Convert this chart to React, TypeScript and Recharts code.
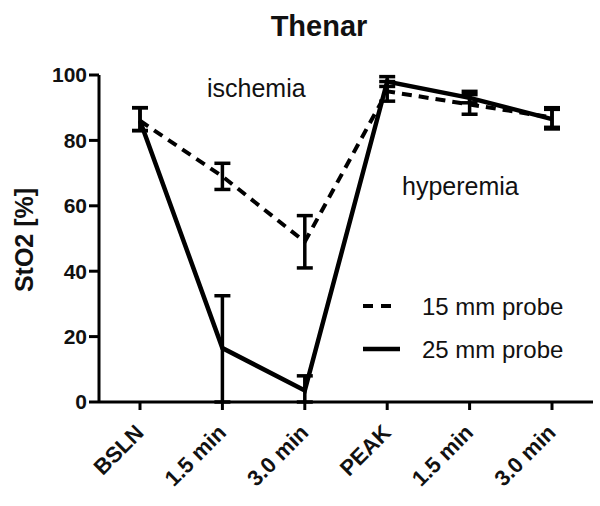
import { LineChart, Line, XAxis, YAxis, ErrorBar, Legend } from 'recharts'

// time points (x axis)
const categories = ['BSLN', '1.5 min', '3.0 min', 'PEAK', '1.5 min', '3.0 min']

// StO2 [%] means
const probe15 = [86, 69, 49, 95, 91, 87]
const probe25 = [86, 16.5, 3.5, 98, 93, 86.5]

// error bars as [down, up] deltas
const err15 = [[3, 4], [4, 4], [8, 8], [3, 3], [3, 3], [3, 3]]
const err25 = [[3, 4], [16.5, 16], [3.5, 4.5], [1.5, 1.5], [1.5, 2], [3, 3]]

const yTicks = [0, 20, 40, 60, 80, 100]

const seriesNames = ['15 mm probe', '25 mm probe']

const data = categories.map((name, i) => ({
  name,
  p15: probe15[i],
  p25: probe25[i],
  e15: err15[i],
  e25: err25[i],
}))

const FONT = 'Arial, "Liberation Sans", sans-serif'
const INK = '#111'

const XTick = ({ x, y, payload }: any) => (
  <text
    x={x + 5}
    y={y + 22}
    transform={`rotate(-45, ${x + 5}, ${y + 22})`}
    textAnchor="end"
    fontFamily={FONT}
    fontWeight="bold"
    fontSize={22}
    fill={INK}
  >
    {payload.value}
  </text>
)

const LegendBox = () => (
  <svg width={240} height={80}>
    <line x1={8} y1={18} x2={38} y2={18} stroke="#000" strokeWidth={4} strokeDasharray="10 8" />
    <text x={67} y={27} fontFamily={FONT} fontSize={24} fill={INK}>{seriesNames[0]}</text>
    <line x1={8} y1={61} x2={45} y2={61} stroke="#000" strokeWidth={4.5} />
    <text x={67} y={70} fontFamily={FONT} fontSize={24} fill={INK}>{seriesNames[1]}</text>
  </svg>
)

export default function App() {
  return (
    <div style={{ position: 'absolute', left: 0, top: 0, width: 600, height: 506, background: '#fff' }}>
      <LineChart
        width={600}
        height={506}
        data={data}
        margin={{ top: 75, right: 7, bottom: 14, left: 0 }}
      >
        <XAxis
          dataKey="name"
          height={90}
          padding={{ left: 41, right: 41 }}
          tick={<XTick />}
          tickSize={8}
          tickMargin={2}
          stroke="#000"
          strokeWidth={3}
          interval={0}
        />
        <YAxis
          width={99}
          domain={[0, 100]}
          ticks={yTicks}
          tickSize={10}
          tickMargin={2}
          stroke="#000"
          strokeWidth={3}
          tick={{ fontFamily: FONT, fontWeight: 'bold', fontSize: 21, fill: INK }}
        />
        <Legend
          layout="vertical"
          align="center"
          verticalAlign="middle"
          content={<LegendBox />}
          wrapperStyle={{ left: 355, top: 288, width: 240 }}
        />
        <Line
          dataKey="p15"
          name={seriesNames[0]}
          stroke="#000"
          strokeWidth={4}
          strokeDasharray="10 7"
          dot={false}
          isAnimationActive={false}
        >
          <ErrorBar dataKey="e15" width={8} stroke="#000" strokeWidth={3.5} />
        </Line>
        <Line
          dataKey="p25"
          name={seriesNames[1]}
          stroke="#000"
          strokeWidth={4.5}
          dot={false}
          isAnimationActive={false}
        >
          <ErrorBar dataKey="e25" width={8} stroke="#000" strokeWidth={3.5} />
        </Line>
      </LineChart>
      <svg width={600} height={506} style={{ position: 'absolute', left: 0, top: 0, pointerEvents: 'none' }}>
        <text x={319} y={36} textAnchor="middle" fontFamily={FONT} fontWeight="bold" fontSize={29} fill={INK}>
          Thenar
        </text>
        <text
          x={24}
          y={240}
          transform="rotate(-90, 24, 240)"
          textAnchor="middle"
          dominantBaseline="central"
          fontFamily={FONT}
          fontWeight="bold"
          fontSize={25}
          fill={INK}
        >
          StO2 [%]
        </text>
        <text x={207} y={97} fontFamily={FONT} fontSize={25} fill={INK}>ischemia</text>
        <text x={402} y={195} fontFamily={FONT} fontSize={25} fill={INK}>hyperemia</text>
      </svg>
    </div>
  )
}
